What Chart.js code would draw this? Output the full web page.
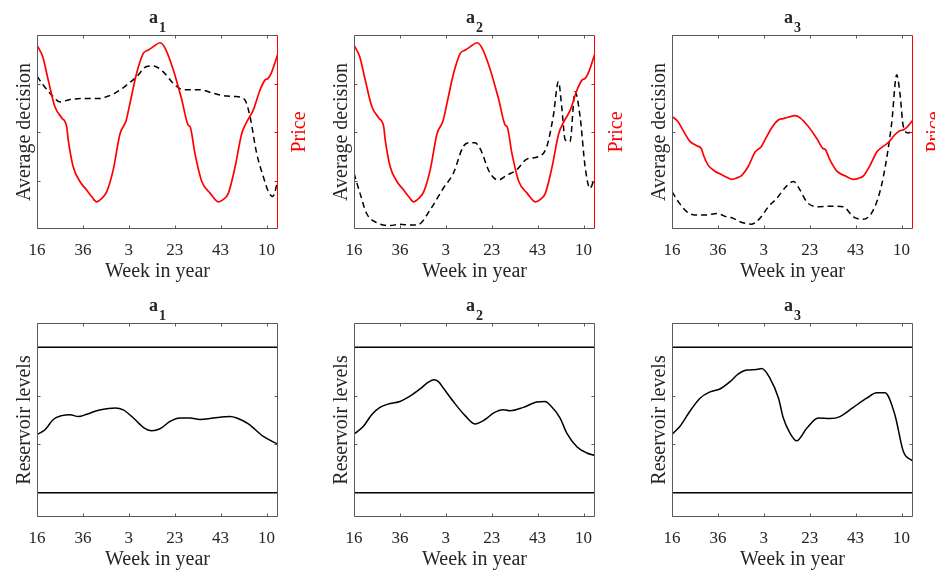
<!DOCTYPE html>
<html>
<head>
<meta charset="utf-8">
<script src="https://cdn.jsdelivr.net/npm/chart.js@4.4.1/dist/chart.umd.min.js"></script>
<style>
  html, body { margin: 0; padding: 0; background: #fff; overflow: hidden; }
  body { width: 935px; height: 571px; position: relative; }
  canvas { position: absolute; }
</style>
</head>
<body>
<canvas id="top1" width="318" height="285"></canvas>
<canvas id="top2" width="318" height="285"></canvas>
<canvas id="top3" width="318" height="285"></canvas>
<canvas id="bot1" width="318" height="285"></canvas>
<canvas id="bot2" width="318" height="285"></canvas>
<canvas id="bot3" width="318" height="285"></canvas>
<script>
// x axis: weeks counted from the first week shown (week 16)
const weekMin = 0
const weekMax = 105
const weekTicks = [0, 20, 40, 60, 80, 100]
const weekLabels = ['16', '36', '3', '23', '43', '10']

// price (same series in all three top panels)
const priceWeeks = [0, 2.5, 4.9, 7.8, 10.8, 12.9, 13.6, 15.8, 18.7, 21.7, 23.8, 26.0, 28.2, 30.4, 33.2, 36.2, 38.8, 40.5, 43.4, 46.3, 48.5, 50.7, 53.6, 55.8, 59.4, 63.1, 65.9, 66.7, 68.8, 71.8, 75.4, 79.0, 81.2, 83.4, 86.3, 89.2, 91.4, 94.2, 97.2, 99.3, 100.8, 102.3, 105]
const price = [3.79, 3.55, 3.07, 2.52, 2.29, 2.12, 1.84, 1.28, 0.98, 0.80, 0.67, 0.56, 0.63, 0.77, 1.22, 1.97, 2.23, 2.59, 3.21, 3.62, 3.69, 3.76, 3.84, 3.73, 3.28, 2.66, 2.14, 2.11, 1.56, 0.98, 0.74, 0.56, 0.61, 0.74, 1.28, 1.97, 2.21, 2.45, 2.87, 3.07, 3.11, 3.24, 3.62]

// average decision
const decisionWeeks1 = [0, 2.7, 6.4, 10.0, 14.4, 20.2, 27.5, 30.4, 34.0, 39.1, 43.4, 47.8, 50.7, 55.0, 59.4, 63.1, 67.4, 71.0, 76.8, 82.7, 87.0, 90.6, 92.8, 95.7, 98.6, 100.8, 102.7, 105]
const decision1 = [3.15, 2.97, 2.76, 2.62, 2.67, 2.69, 2.69, 2.73, 2.80, 2.97, 3.14, 3.35, 3.36, 3.24, 3.00, 2.88, 2.87, 2.87, 2.80, 2.74, 2.73, 2.66, 2.32, 1.56, 1.08, 0.77, 0.67, 1.01]

const decisionWeeks2 = [0, 2.6, 5.5, 9.9, 15.7, 20.0, 24.4, 28.0, 33.1, 38.9, 43.3, 47.6, 50.5, 52.7, 54.9, 59.3, 62.9, 66.6, 70.9, 75.3, 80.3, 84.0, 86.8, 89.1, 90.5, 92.0, 94.1, 96.3, 98.5, 100.7, 102.8, 105]
const decision2 = [1.15, 0.74, 0.32, 0.13, 0.07, 0.10, 0.08, 0.09, 0.39, 0.84, 1.15, 1.70, 1.78, 1.78, 1.66, 1.15, 1.01, 1.11, 1.22, 1.44, 1.49, 1.70, 2.32, 3.04, 2.52, 1.84, 1.80, 2.83, 2.32, 1.28, 0.84, 1.08]

const decisionWeeks3 = [0, 2.8, 6.4, 10.0, 15.1, 19.5, 23.8, 26.7, 29.6, 34.7, 38.3, 42.0, 45.6, 50.0, 52.9, 55.8, 58.7, 63.1, 68.8, 74.6, 79.0, 83.3, 88.4, 92.1, 95.7, 97.9, 99.3, 100.8, 103.0, 105]
const decision3 = [0.77, 0.56, 0.36, 0.29, 0.29, 0.32, 0.25, 0.22, 0.15, 0.10, 0.22, 0.46, 0.63, 0.89, 0.98, 0.80, 0.56, 0.46, 0.47, 0.46, 0.25, 0.20, 0.46, 1.08, 2.18, 3.18, 2.80, 2.11, 1.98, 2.08]

// reservoir levels and their bounds
const levelLow = 0
const levelHigh = 3

const levelWeeks1 = [0, 3.5, 7.1, 10.8, 14.4, 18.0, 21.7, 26.0, 30.4, 34.0, 37.6, 42.0, 46.3, 50.0, 53.6, 58.0, 62.3, 66.7, 71.0, 76.8, 84.1, 87.0, 92.1, 98.6, 105]
const level1 = [1.20, 1.30, 1.51, 1.59, 1.61, 1.57, 1.62, 1.69, 1.73, 1.75, 1.71, 1.54, 1.35, 1.28, 1.32, 1.47, 1.54, 1.54, 1.51, 1.54, 1.57, 1.54, 1.42, 1.16, 1.00]

const levelWeeks2 = [0, 1.2, 4.1, 7.7, 11.3, 15.7, 20.0, 24.4, 28.8, 32.4, 34.9, 36.8, 38.9, 43.3, 48.4, 52.7, 57.1, 60.7, 65.1, 68.0, 73.8, 79.6, 83.2, 85.4, 89.8, 92.7, 97.1, 101.4, 105]
const level2 = [1.21, 1.25, 1.37, 1.61, 1.76, 1.84, 1.88, 1.99, 2.14, 2.28, 2.33, 2.29, 2.16, 1.88, 1.59, 1.42, 1.51, 1.64, 1.71, 1.69, 1.76, 1.87, 1.88, 1.81, 1.54, 1.23, 0.95, 0.82, 0.77]

const levelWeeks3 = [0, 0.6, 3.5, 7.8, 12.2, 16.6, 20.9, 25.3, 28.9, 32.5, 36.9, 39.1, 42.7, 46.4, 48.5, 51.4, 54.3, 58.7, 63.7, 68.8, 73.2, 79.0, 84.8, 89.2, 92.8, 97.1, 100.8, 105]
const level3 = [1.20, 1.23, 1.37, 1.68, 1.95, 2.08, 2.14, 2.29, 2.45, 2.53, 2.54, 2.56, 2.36, 1.95, 1.54, 1.23, 1.07, 1.33, 1.54, 1.53, 1.57, 1.76, 1.95, 2.06, 2.06, 1.61, 0.85, 0.65]

const serif = 'Liberation Serif'
const ink = '#262626'
const axisInk = '#5a5a5a'
const red = '#ff0000'

const pts = (xs, ys) => xs.map((x, i) => ({x: x, y: ys[i]}))

const frame = {
  id: 'frame',
  afterDatasetsDraw(chart, args, o) {
    const {ctx, chartArea, scales} = chart
    const l = Math.round(chartArea.left) + 0.5
    const r = Math.round(chartArea.right) - 0.5
    const t = Math.round(chartArea.top) + 0.5
    const b = Math.round(chartArea.bottom) - 0.5
    const len = 3
    ctx.save()
    ctx.lineWidth = 1
    ctx.strokeStyle = axisInk
    ctx.beginPath()
    ctx.moveTo(r, t); ctx.lineTo(l, t); ctx.lineTo(l, b); ctx.lineTo(r, b)
    if (!scales.y1) ctx.lineTo(r, t)
    scales.x.ticks.forEach(tk => {
      const px = Math.round(scales.x.getPixelForValue(tk.value)) + 0.5
      ctx.moveTo(px, b); ctx.lineTo(px, b - len)
      ctx.moveTo(px, t); ctx.lineTo(px, t + len)
    })
    scales.y.ticks.forEach(tk => {
      const py = Math.round(scales.y.getPixelForValue(tk.value)) + 0.5
      ctx.moveTo(l, py); ctx.lineTo(l + len, py)
      if (!scales.y1) { ctx.moveTo(r, py); ctx.lineTo(r - len, py) }
    })
    ctx.stroke()
    if (scales.y1) {
      ctx.strokeStyle = red
      ctx.beginPath()
      ctx.moveTo(r, t); ctx.lineTo(r, b)
      scales.y1.ticks.forEach(tk => {
        const py = Math.round(scales.y1.getPixelForValue(tk.value)) + 0.5
        ctx.moveTo(r, py); ctx.lineTo(r - len, py)
      })
      ctx.stroke()
    }
    ctx.restore()
  }
}

const labels = {
  id: 'labels',
  afterDraw(chart, args, o) {
    const {ctx, chartArea: a} = chart
    ctx.save()
    ctx.fillStyle = ink
    ctx.textAlign = 'left'
    ctx.textBaseline = 'alphabetic'
    ctx.font = 'bold 18px ' + serif
    const wa = ctx.measureText('a').width
    ctx.font = 'bold 14px ' + serif
    const ws = ctx.measureText(o.sub).width
    const x0 = (a.left + a.right) / 2 - (wa + ws + 1) / 2
    ctx.font = 'bold 18px ' + serif
    ctx.fillText('a', x0, a.top - 12)
    ctx.font = 'bold 14px ' + serif
    ctx.fillText(o.sub, x0 + wa + 1, a.top - 3)
    if (o.price) {
      ctx.translate(a.right + 27, (a.top + a.bottom) / 2)
      ctx.rotate(-Math.PI / 2)
      ctx.fillStyle = red
      ctx.textAlign = 'center'
      ctx.font = '20px ' + serif
      ctx.fillText('Price', 0, 0)
    }
    ctx.restore()
  }
}

function xScale() {
  return {
    type: 'linear', min: weekMin, max: weekMax,
    afterBuildTicks: s => { s.ticks = weekTicks.map(v => ({value: v})) },
    afterFit: s => { s.height = 56 },
    grid: {display: false, drawTicks: false},
    border: {display: false},
    ticks: {
      color: ink, font: {family: serif, size: 17}, padding: 11,
      maxRotation: 0, autoSkip: false,
      callback: v => weekLabels[weekTicks.indexOf(v)]
    },
    title: {display: true, text: 'Week in year', color: ink,
      font: {family: serif, size: 20}, padding: {top: 0, bottom: 1}}
  }
}

function yScale(min, max, tickVals, text, position, width) {
  return {
    type: 'linear', position: position, min: min, max: max,
    afterBuildTicks: s => { s.ticks = tickVals.map(v => ({value: v})) },
    afterFit: s => { s.width = width },
    grid: {display: false, drawTicks: false},
    border: {display: false},
    ticks: {display: false},
    title: {display: !!text, text: text, color: ink,
      font: {family: serif, size: 20}, padding: {top: 13, bottom: 0}}
  }
}

function place(id, left, top) {
  const el = document.getElementById(id)
  el.style.left = left + 'px'
  el.style.top = top + 'px'
  return el
}

const common = {
  responsive: false,
  animation: false,
  devicePixelRatio: 1,
  elements: {point: {radius: 0}, line: {cubicInterpolationMode: 'monotone'}}
}

function topPanel(id, left, sub, weeks, decision, leftTicks, priceMin, priceMax, priceTicks) {
  new Chart(place(id, left, 0), {
    type: 'line',
    data: {
      datasets: [
        {data: pts(priceWeeks, price), yAxisID: 'y1', borderColor: red, borderWidth: 1.7},
        {data: pts(weeks, decision), yAxisID: 'y', borderColor: '#000', borderWidth: 1.5, borderDash: [6, 4]}
      ]
    },
    options: Object.assign({}, common, {
      layout: {padding: {top: 35, left: 0, right: 0, bottom: 0}},
      scales: {
        x: xScale(),
        y: yScale(0, 4, leftTicks, 'Average decision', 'left', 37),
        y1: yScale(priceMin, priceMax, priceTicks, '', 'right', 40)
      },
      plugins: {legend: {display: false}, title: {display: false}, tooltip: {enabled: false},
        labels: {sub: sub, price: true}}
    }),
    plugins: [frame, labels]
  })
}

function bottomPanel(id, left, sub, weeks, level) {
  new Chart(place(id, left, 288), {
    type: 'line',
    data: {
      datasets: [
        {data: pts(weeks, level), borderColor: '#000', borderWidth: 1.5},
        {data: pts([weekMin, weekMax], [levelHigh, levelHigh]), borderColor: '#000', borderWidth: 1.5},
        {data: pts([weekMin, weekMax], [levelLow, levelLow]), borderColor: '#000', borderWidth: 1.5}
      ]
    },
    options: Object.assign({}, common, {
      layout: {padding: {top: 35, left: 0, right: 40, bottom: 0}},
      scales: {
        x: xScale(),
        y: yScale(-0.5, 3.5, [1, 2], 'Reservoir levels', 'left', 37)
      },
      plugins: {legend: {display: false}, title: {display: false}, tooltip: {enabled: false},
        labels: {sub: sub, price: false}}
    }),
    plugins: [frame, labels]
  })
}

const colLeft = [0, 317, 635]

topPanel('top1', colLeft[0], '1', decisionWeeks1, decision1, [1, 2, 3], 0, 4, [1, 2, 3])
topPanel('top2', colLeft[1], '2', decisionWeeks2, decision2, [1, 2, 3], 0, 4, [1, 2, 3])
topPanel('top3', colLeft[2], '3', decisionWeeks3, decision3, [2], -2, 8, [3])

bottomPanel('bot1', colLeft[0], '1', levelWeeks1, level1)
bottomPanel('bot2', colLeft[1], '2', levelWeeks2, level2)
bottomPanel('bot3', colLeft[2], '3', levelWeeks3, level3)
</script>
</body>
</html>
